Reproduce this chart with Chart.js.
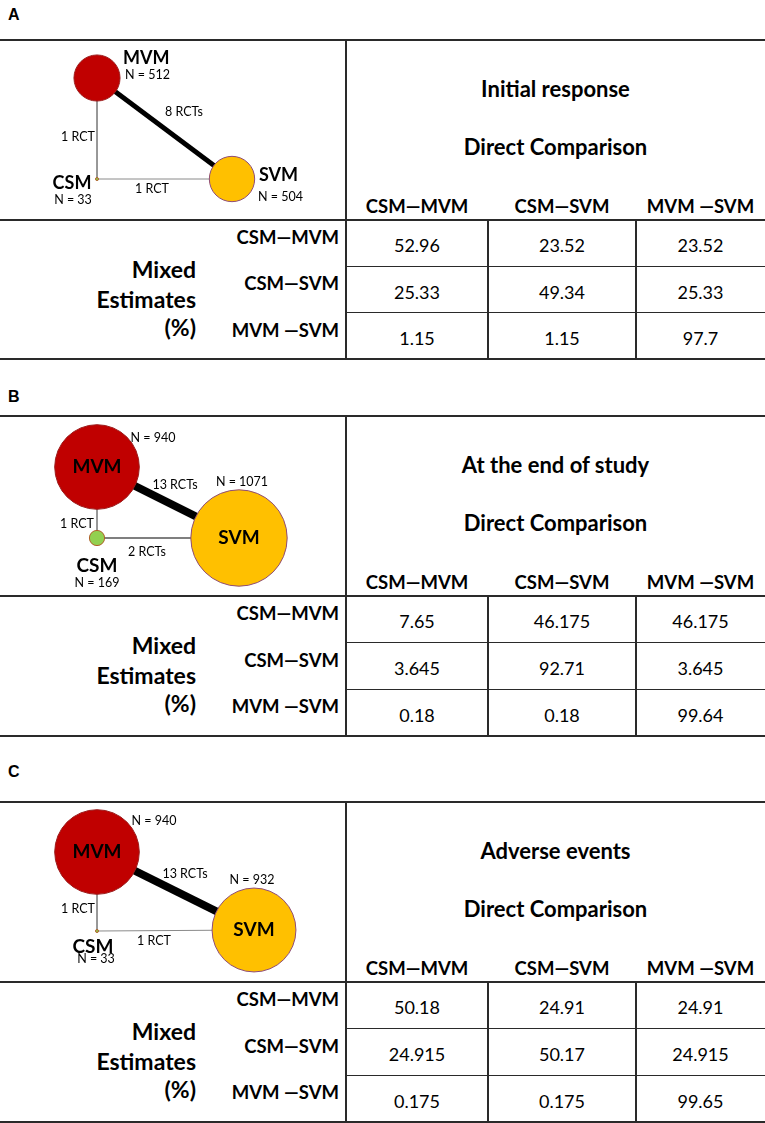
<!DOCTYPE html>
<html><head><meta charset="utf-8">
<script src="https://cdn.jsdelivr.net/npm/chart.js@4.4.1/dist/chart.umd.min.js"></script>
<style>
html,body{margin:0;padding:0;background:#fff;}
body{width:765px;height:1123px;position:relative;overflow:hidden;font-family:Lato,'Open Sans',sans-serif;color:#000;}
.t{position:absolute;white-space:nowrap;transform:translateY(-50%);line-height:1;}
.hl{position:absolute;background:#2a2a2a;}
.vl{position:absolute;background:#2a2a2a;}
canvas{position:absolute;left:0;}
</style></head><body>
<script>
// ---------- DATA ----------
const panelLetters = ['A','B','C'];
const panelTitles = ['Initial response','At the end of study','Adverse events'];
const subTitle = 'Direct Comparison';
const comparisons = ['CSM\u2014MVM','CSM\u2014SVM','MVM \u2014SVM'];
const mixedLabel = ['Mixed','Estimates','(%)'];

// mixed estimates (rows) x direct comparisons (columns), %
const mixedA_csmMvm = [52.96, 23.52, 23.52];
const mixedA_csmSvm = [25.33, 49.34, 25.33];
const mixedA_mvmSvm = [1.15, 1.15, 97.7];
const mixedB_csmMvm = [7.65, 46.175, 46.175];
const mixedB_csmSvm = [3.645, 92.71, 3.645];
const mixedB_mvmSvm = [0.18, 0.18, 99.64];
const mixedC_csmMvm = [50.18, 24.91, 24.91];
const mixedC_csmSvm = [24.915, 50.17, 24.915];
const mixedC_mvmSvm = [0.175, 0.175, 99.65];

// network nodes
const treatments = ['MVM','SVM','CSM'];
const patientsA = [512, 504, 33];
const patientsB = [940, 1071, 169];
const patientsC = [940, 932, 33];
// network edges
const edgeFrom = ['MVM','MVM','CSM'];
const edgeTo   = ['SVM','CSM','SVM'];
const rctsA = [8, 1, 1];
const rctsB = [13, 1, 2];
const rctsC = [13, 1, 1];

// ---------- LAYOUT / STYLE ----------
const L = {
  top: [40, 416, 802],
  letterY: [15, 397, 772],
  bottom: [359, 736, 1122],
  headH: 180,
  divX: 346,
  colX: [346, 488, 636, 765],
  nodePos: [
    {MVM:[97,38], SVM:[232,139], CSM:[97,139]},
    {MVM:[97,51], SVM:[239,122], CSM:[97,122]},
    {MVM:[97,50], SVM:[254,128], CSM:[97,129]}
  ],
  nameLab: [
    {MVM:[123,18,'left'], SVM:[259,135,'left'], CSM:[72,143,'center']},
    {MVM:[97,51,'center'], SVM:[239,122,'center'], CSM:[97,150,'center']},
    {MVM:[97,50,'center'], SVM:[254,128,'center'], CSM:[93,145,'center']}
  ],
  nLab: [
    {MVM:[125,35,'left'], SVM:[258,157,'left'], CSM:[73,160,'center']},
    {MVM:[153,22,'center'], SVM:[242,66,'center'], CSM:[97,167,'center']},
    {MVM:[154,19,'center'], SVM:[252,78,'center'], CSM:[96,157,'center']}
  ],
  edgeLab: [
    [[184,72],[78,97],[152,149]],
    [[175,69],[77,108],[147,136]],
    [[185,72],[78,107],[154,139]]
  ],
  nameFont: ['bold 18px Lato','bold 19px Lato','bold 19px Lato'],
  smallFont: '12.5px Lato'
};
const nodeFill = {MVM:'#C00000', SVM:'#FFC000', CSM:'#92D050'};
const nodeBorder = {MVM:'#9B1C1C', SVM:'#8E4C78', CSM:'#B0602A'};

const mixed = [
  [mixedA_csmMvm, mixedA_csmSvm, mixedA_mvmSvm],
  [mixedB_csmMvm, mixedB_csmSvm, mixedB_mvmSvm],
  [mixedC_csmMvm, mixedC_csmSvm, mixedC_mvmSvm]
];
const patients = [patientsA, patientsB, patientsC];
const rcts = [rctsA, rctsB, rctsC];

// ---------- helpers ----------
function text(str, x, y, font, align){
  const d = document.createElement('div');
  d.className = 't';
  d.textContent = str;
  d.style.font = font;
  d.style.top = y + 'px';
  if (align === 'right') { d.style.right = (765 - x) + 'px'; }
  else if (align === 'center') { d.style.left = x + 'px'; d.style.transform = 'translate(-50%,-50%)'; }
  else { d.style.left = x + 'px'; }
  document.body.appendChild(d);
}
function hline(x1, x2, y, w){
  const d = document.createElement('div'); d.className='hl';
  d.style.left = x1+'px'; d.style.width = (x2-x1)+'px';
  d.style.top = (y - w/2)+'px'; d.style.height = w+'px';
  document.body.appendChild(d);
}
function vline(x, y1, y2, w){
  const d = document.createElement('div'); d.className='vl';
  d.style.left = (x - w/2)+'px'; d.style.width = w+'px';
  d.style.top = y1+'px'; d.style.height = (y2-y1)+'px';
  document.body.appendChild(d);
}

const netLabelPlugin = {
  id: 'netLabels',
  afterDatasetsDraw(chart, args, opts){
    const ctx = chart.ctx, xs = chart.scales.x, ys = chart.scales.y;
    ctx.save();
    ctx.fillStyle = '#000';
    ctx.textBaseline = 'middle';
    (opts.items || []).forEach(it => {
      ctx.font = it.font;
      ctx.textAlign = it.align;
      ctx.fillText(it.text, xs.getPixelForValue(it.x), ys.getPixelForValue(it.y));
    });
    ctx.restore();
  }
};

function network(i){
  const pos = L.nodePos[i];
  const pts = patients[i], rc = rcts[i];
  const cv = document.createElement('canvas');
  cv.width = 345; cv.height = L.headH;
  cv.style.top = L.top[i] + 'px';
  cv.style.width = '345px'; cv.style.height = L.headH + 'px';
  document.body.appendChild(cv);

  const edgeDs = edgeFrom.map((f, k) => ({
    type: 'line',
    data: [{x: pos[f][0], y: pos[f][1]}, {x: pos[edgeTo[k]][0], y: pos[edgeTo[k]][1]}],
    borderColor: rc[k] > 1 ? '#000' : '#8a8a8a',
    borderWidth: Math.max(1, rc[k] * 0.6),
    pointRadius: 0, showLine: true, clip: false, order: 2
  }));
  const nodeDs = {
    type: 'bubble',
    data: treatments.map((t, k) => ({x: pos[t][0], y: pos[t][1], r: Math.max(1.5, pts[k] * 0.045)})),
    backgroundColor: treatments.map(t => nodeFill[t]),
    borderColor: treatments.map(t => nodeBorder[t]),
    borderWidth: 1, clip: false, order: 1
  };
  const items = [];
  treatments.forEach((t, k) => {
    const nl = L.nameLab[i][t];
    items.push({text: t, x: nl[0], y: nl[1], align: nl[2], font: L.nameFont[i]});
    const pl = L.nLab[i][t];
    items.push({text: 'N = ' + pts[k], x: pl[0], y: pl[1], align: pl[2], font: L.smallFont});
  });
  rc.forEach((n, k) => {
    const el = L.edgeLab[i][k];
    items.push({text: n + (n > 1 ? ' RCTs' : ' RCT'), x: el[0], y: el[1], align: 'center', font: L.smallFont});
  });

  new Chart(cv, {
    type: 'scatter',
    data: {datasets: [...edgeDs, nodeDs]},
    options: {
      responsive: false, animation: false, events: [],
      layout: {padding: 0, autoPadding: false},
      plugins: {legend: {display: false}, tooltip: {enabled: false}, netLabels: {items}},
      scales: {
        x: {type: 'linear', display: false, min: 0, max: 345},
        y: {type: 'linear', display: false, min: 0, max: L.headH, reverse: true}
      }
    },
    plugins: [netLabelPlugin]
  });
}

function panel(i){
  const T = L.top[i], H = T + L.headH, B = L.bottom[i];
  const rh = (B - H) / 3;
  text(panelLetters[i], 8, L.letterY[i], 'bold 16px "Liberation Sans", Arial, sans-serif', 'left');
  network(i);
  hline(0, 765, T, 2);
  hline(0, 765, H, 2);
  hline(0, 765, B, 2);
  vline(L.divX, T, B, 1.5);
  vline(L.colX[1], H, B, 1.5);
  vline(L.colX[2], H, B, 1.5);
  hline(L.divX, 765, H + rh, 1.5);
  hline(L.divX, 765, H + 2*rh, 1.5);
  const cx = (L.divX + 765) / 2;
  text(panelTitles[i], cx, T + 48, 'bold 22px Lato', 'center');
  text(subTitle, cx, T + 106, 'bold 22px Lato', 'center');
  comparisons.forEach((c, k) => {
    const mid = (L.colX[k] + L.colX[k+1]) / 2;
    text(c, mid, T + 166, 'bold 18.5px Lato', 'center');
    text(c, 339, H + rh*k + 17, 'bold 18.5px Lato', 'right');
    mixed[i][k].forEach((v, j) => {
      const m = (L.colX[j] + L.colX[j+1]) / 2;
      text(String(v), m, H + rh*k + rh/2 + 2, '18px Lato', 'center');
    });
  });
  const my = [49, 79, 107];
  mixedLabel.forEach((s, k) => text(s, 196, H + my[k], 'bold 23px Lato', 'right'));
}

[0,1,2].forEach(panel);
</script>
</body></html>
